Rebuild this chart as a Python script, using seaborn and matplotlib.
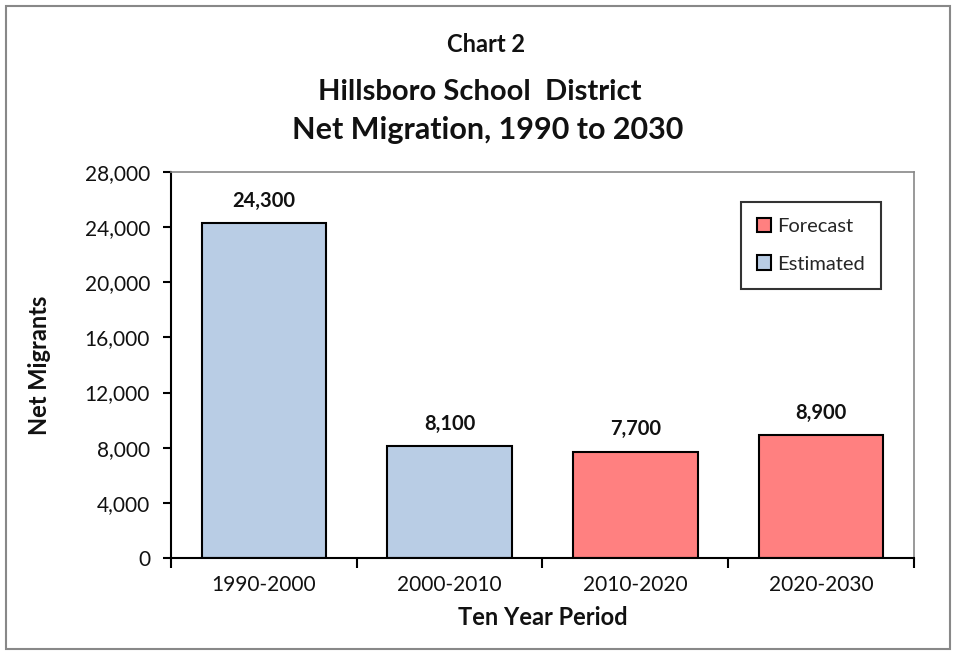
import matplotlib
matplotlib.use("Agg")
import matplotlib.pyplot as plt
import seaborn as sns
import pandas as pd
from matplotlib.ticker import FuncFormatter, FixedLocator
from matplotlib.patches import Rectangle

# Chart data
periods = ['1990-2000', '2000-2010', '2010-2020', '2020-2030']
migrants = [24300, 8100, 7700, 8900]
kind = ['Estimated', 'Estimated', 'Forecast', 'Forecast']

df = pd.DataFrame({'Period': periods, 'Net Migrants': migrants, 'Type': kind})

sns.set_theme(style='white')
plt.rcParams['font.family'] = ['Lato', 'DejaVu Sans']

fig = plt.figure(figsize=(9.54, 6.51), dpi=100)
ax = fig.add_axes([0.1792, 0.1429, 0.7788, 0.5929])

colors = {'Forecast': '#FF8080', 'Estimated': '#B9CDE5'}
sns.barplot(data=df, x='Period', y='Net Migrants', hue='Type',
            hue_order=['Forecast', 'Estimated'], palette=colors, saturation=1,
            dodge=False, width=0.67, edgecolor='black', linewidth=1.5, ax=ax)

ax.set_xlim(-0.5, 3.5)
ax.set_ylim(0, 28000)
ax.set_yticks(range(0, 28001, 4000))
ax.yaxis.set_major_formatter(FuncFormatter(lambda v, p: f'{int(v):,}'))

# Category ticks between bars
ax.xaxis.set_minor_locator(FixedLocator([-0.5, 0.5, 1.5, 2.5, 3.5]))
ax.tick_params(axis='x', which='major', length=0, labelsize=15, pad=12, colors='#111111')
ax.tick_params(axis='x', which='minor', length=7, width=1.5, direction='out', color='black', bottom=True)
ax.tick_params(axis='y', which='major', length=6, width=1.5, direction='out', color='black', left=True,
               labelsize=15, colors='#111111', pad=9)

for side in ['left', 'bottom']:
    ax.spines[side].set_color('black')
    ax.spines[side].set_linewidth(1.5)
for side in ['top', 'right']:
    ax.spines[side].set_color('#888888')
    ax.spines[side].set_linewidth(1.2)

# Value labels
for i, v in enumerate(migrants):
    ax.text(i, v + 900, f'{v:,}', ha='center', va='bottom', fontsize=14.5, fontweight='bold', color='#111111')

ax.set_xlabel('Ten Year Period', fontsize=17, fontweight='bold', labelpad=8, color='#111111')
ax.set_ylabel('Net Migrants', fontsize=17, fontweight='bold', labelpad=24, color='#111111')

leg = ax.legend(loc='upper right', bbox_to_anchor=(0.9556, 0.922), frameon=True, fancybox=False,
                fontsize=14.5, handlelength=0.7, handleheight=0.7, handletextpad=0.3,
                labelspacing=1.0, borderpad=0.8, borderaxespad=0)
leg.get_frame().set_edgecolor('black')
leg.get_frame().set_linewidth(1.5)

fig.text(0.509, 0.931, 'Chart 2', ha='center', va='center', fontsize=17, fontweight='bold', color='#111111')
fig.text(0.503, 0.858, 'Hillsboro School  District', ha='center', va='center', fontsize=21,
         fontweight='bold', color='#111111')
fig.text(0.511, 0.800, 'Net Migration, 1990 to 2030', ha='center', va='center', fontsize=22,
         fontweight='bold', color='#111111')

# Outer chart border
fig.patches.append(Rectangle((0.006, 0.003), 0.99, 0.988, transform=fig.transFigure,
                             fill=False, edgecolor='#888888', linewidth=1.5))

fig.savefig('out.png', dpi=100)
